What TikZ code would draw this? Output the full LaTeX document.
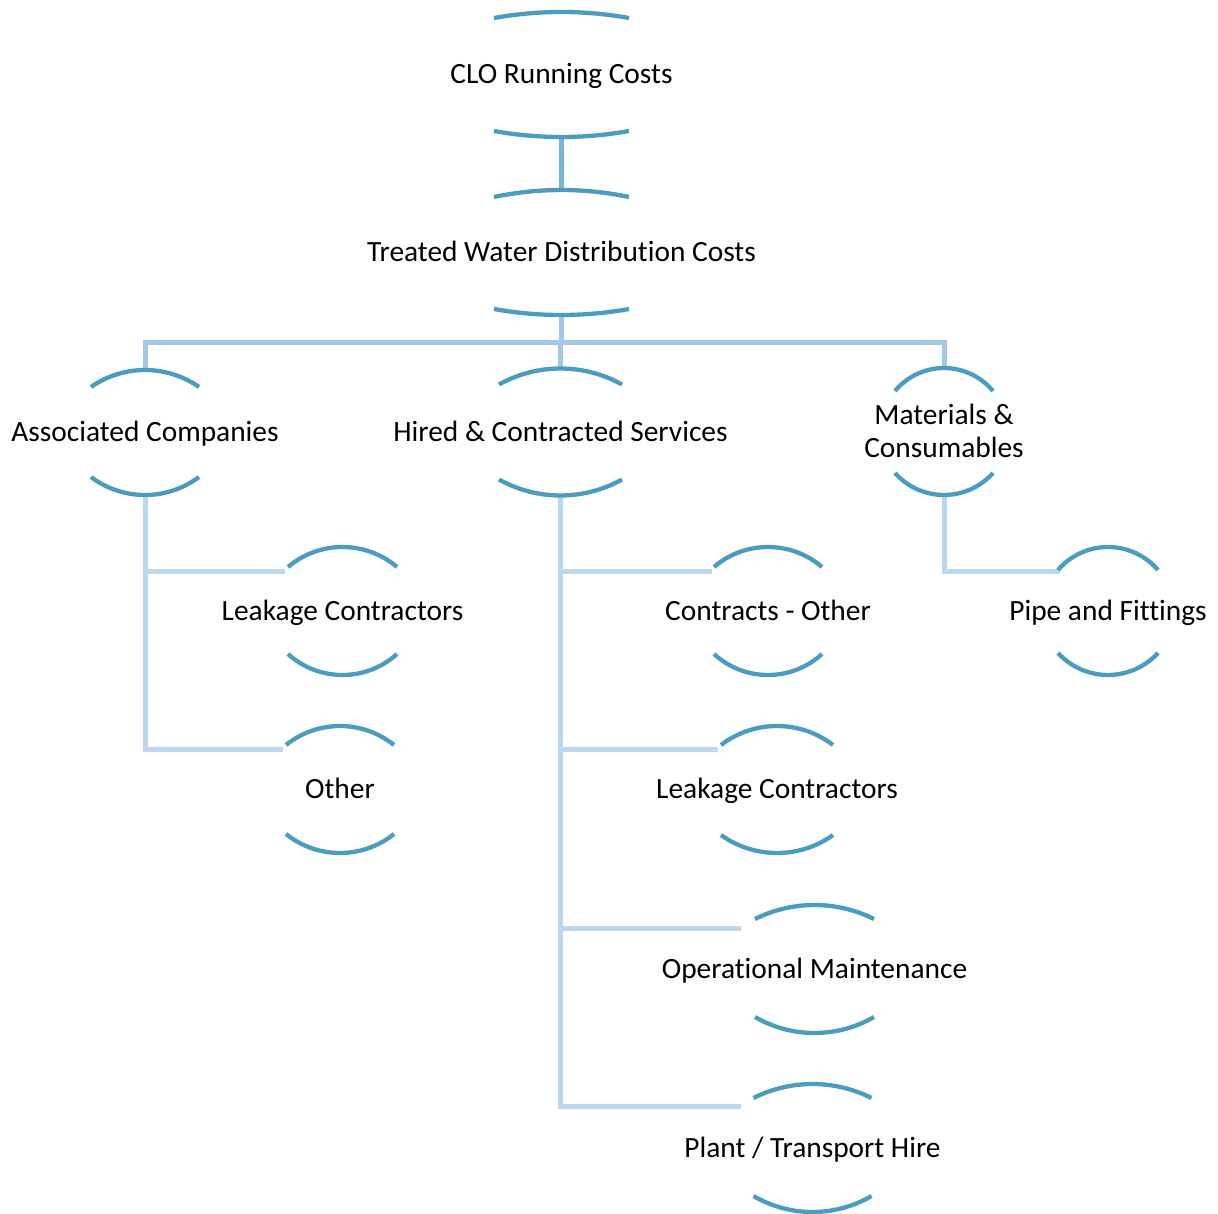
\documentclass[tikz,border=0pt]{standalone}
\usepackage{fontspec}
\setmainfont[Ligatures={NoCommon}]{Carlito}
\usetikzlibrary{calc}
\definecolor{arcc}{HTML}{4A9DC0}
\definecolor{connA}{HTML}{74B8D3}
\definecolor{connB}{HTML}{A3C8E6}
\definecolor{connC}{HTML}{BDD7EE}
\newcommand\tx[1]{\makebox[0pt]{#1}}
\newcommand\capsarcs[3]{%
  \draw[arcline] let \p1=(#1.north west), \p2=(#1.north east),
    \n1={(\x2-\x1)/2}, \n2={(\n1*\n1/#2+#2)/2}, \n3={asin(\n1/\n2)} in
    (\x1,{\y1-#2pt}) arc[start angle={90+\n3}, end angle={90-\n3}, radius=\n2];
  \draw[arcline] let \p1=(#1.south west), \p2=(#1.south east),
    \n1={(\x2-\x1)/2}, \n2={(\n1*\n1/#3+#3)/2}, \n3={asin(\n1/\n2)} in
    (\x1,{\y1+#3pt}) arc[start angle={270-\n3}, end angle={270+\n3}, radius=\n2];
}
\begin{document}
\begin{tikzpicture}[x=1pt,y=1pt,
  box/.style={inner sep=0pt, outer sep=0pt, minimum height=127, text height=18pt, text depth=0pt,
    font=\fontsize{29.4}{33}\selectfont, text=black},
  arcline/.style={draw=arcc, line width=4.3pt},
  lineA/.style={draw=connA, line width=5pt},
  lineB/.style={draw=connB, line width=5pt, line join=miter},
  lineC/.style={draw=connC, line width=5pt, line join=miter}]
\useasboundingbox (0,0) rectangle (1218,-1214);

% nodes
\node[box, minimum width=135, minimum height=125] (clo) at (561.5,-74.5) {\tx{CLO Running Costs}};
\node[box, minimum width=135, minimum height=125] (twd) at (561.5,-252.5) {\tx{Treated Water Distribution Costs}};
\node[box, minimum width=108, minimum height=125] (assoc) at (145,-432.5) {\tx{Associated Companies}};
\node[box, minimum width=123, minimum height=127] (hired) at (560.5,-432) {\tx{Hired \& Contracted Services}};
\node[box, minimum width=98, minimum height=127] (mat) at (944,-431.5) {\tx{\begin{tabular}{@{}c@{}}Materials \&\\Consumables\end{tabular}}};
\node[box, minimum width=109, minimum height=128] (leakA) at (342.5,-611) {\tx{Leakage Contractors}};
\node[box, minimum width=108, minimum height=127] (other) at (340,-789.5) {\tx{Other}};
\node[box, minimum width=108, minimum height=128] (cother) at (768,-611) {\tx{Contracts - Other}};
\node[box, minimum width=112, minimum height=127] (leakB) at (777,-789.5) {\tx{Leakage Contractors}};
\node[box, minimum width=119, minimum height=128] (opm) at (814.5,-969) {\tx{Operational Maintenance}};
\node[box, minimum width=118, minimum height=128] (plant) at (812.5,-1148) {\tx{Plant / Transport Hire}};
\node[box, minimum width=100, minimum height=128] (pipe) at (1108,-611) {\tx{Pipe and Fittings}};

% branch end points
\coordinate (bus) at (0,-343);
\coordinate (e-leakA) at ($(leakA.north west)+(-3,-24)$);
\coordinate (e-other) at ($(other.north west)+(-3,-23)$);
\coordinate (e-cother) at ($(cother.north west)+(-2,-24)$);
\coordinate (e-leakB) at ($(leakB.north west)+(-3,-23)$);
\coordinate (e-opm) at ($(opm.north west)+(-14,-23)$);
\coordinate (e-plant) at ($(plant.north west)+(-13,-22)$);
\coordinate (e-pipe) at ($(pipe.north west)+(2,-24)$);

% connectors
\draw[lineA] (clo.south) -- (twd.north);
\draw[lineB] (twd.south) -- (twd.south |- bus);
\draw[lineB] (assoc.north) |- (mat.north |- bus) -- (mat.north);
\draw[lineB] (hired.north) -- (hired.north |- bus);

\draw[lineC] (assoc.south) |- (e-other);
\draw[lineC] (assoc.south |- e-leakA) -- (e-leakA);
\draw[lineC] (hired.south) |- (e-plant);
\draw[lineC] (hired.south |- e-cother) -- (e-cother);
\draw[lineC] (hired.south |- e-leakB) -- (e-leakB);
\draw[lineC] (hired.south |- e-opm) -- (e-opm);
\draw[lineC] (mat.south) |- (e-pipe);

% arcs
\capsarcs{clo}{6}{6}
\capsarcs{twd}{7}{6}
\capsarcs{assoc}{17}{18}
\capsarcs{hired}{16}{16}
\capsarcs{mat}{23}{22}
\capsarcs{leakA}{20}{21}
\capsarcs{other}{19}{19}
\capsarcs{cother}{20}{21}
\capsarcs{leakB}{19}{18}
\capsarcs{opm}{14}{16}
\capsarcs{plant}{14}{16}
\capsarcs{pipe}{23}{22}
\end{tikzpicture}
\end{document}
